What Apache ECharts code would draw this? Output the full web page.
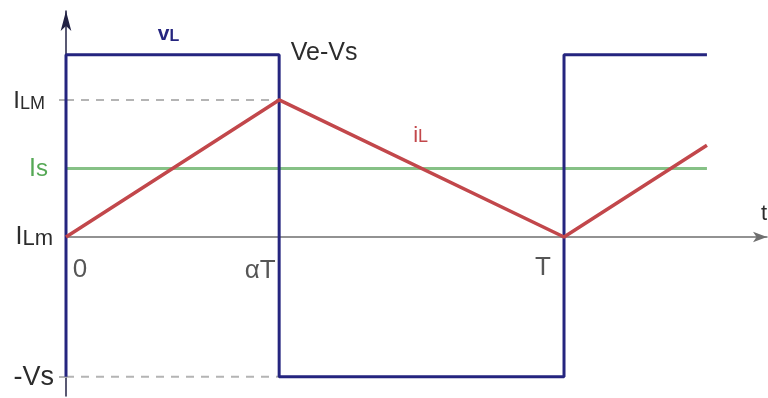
<!DOCTYPE html>
<html>
<head>
<meta charset="utf-8">
<script src="https://cdn.jsdelivr.net/npm/echarts@6/dist/echarts.min.js"></script>
<style>
  html, body { margin: 0; padding: 0; background: #ffffff; }
  #chart { width: 768px; height: 398px; }
</style>
</head>
<body>
<div id="chart"></div>
<script>
// Inductor voltage and current over one switching period (time in units of T)
const alpha = 0.428;
const timeTicks = [0, alpha, 1];
const timeTickLabels = ['0', 'αT', 'T'];

// Levels: ILM, Is, ILm, -Vs (current/voltage in arbitrary units)
const levelTicks = [1, 0.5, 0, -1.02];
const levelTickKeys = ['ILM', 'Is', 'ILm', 'Vs'];

// vL: square wave between Ve-Vs and -Vs
const vLTime  = [0, 0, alpha, alpha, 1, 1, 1.287];
const vLValue = [-1.02, 1.33, 1.33, -1.02, -1.02, 1.33, 1.33];

// iL: triangular ripple between ILm and ILM
const iLTime  = [0, alpha, 1, 1.287];
const iLValue = [0, 1, 0, 0.67];

// Is: mean output current
const isTime  = [0, 1.287];
const isValue = [0.5, 0.5];

// dashed guide lines to ILM and -Vs
const guideTime = [0, alpha];
const ilmGuide = [1, 1];
const vsGuide = [-1.02, -1.02];

const zip = (xs, ys) => xs.map((x, i) => [x, ys[i]]);

const FONT = '"Liberation Sans", Arial, sans-serif';
const TEXT = '#2c2c2c';
const BLUE = '#25257f';
const RED = '#c2474b';
const GREEN = '#86c186';
const LABEL_GREEN = '#55a855';
const GUIDE = '#b4b4b4';

const chart = echarts.init(document.getElementById('chart'), null, { renderer: 'canvas' });

const yLabelRich = {
  big:   { fontFamily: FONT, fontSize: 24, color: TEXT, lineHeight: 26, verticalAlign: 'bottom' },
  bigB:  { fontFamily: FONT, fontSize: 25, color: TEXT, lineHeight: 26, verticalAlign: 'bottom' },
  smA:   { fontFamily: FONT, fontSize: 18, color: TEXT, lineHeight: 26, verticalAlign: 'bottom', padding: [0, 9, 0, 0] },
  smB:   { fontFamily: FONT, fontSize: 22, color: TEXT, lineHeight: 26, verticalAlign: 'bottom', padding: [0, 1, 0, 0] },
  gBig:  { fontFamily: FONT, fontSize: 25, color: LABEL_GREEN, lineHeight: 26, verticalAlign: 'bottom' },
  gSm:   { fontFamily: FONT, fontSize: 24, color: LABEL_GREEN, lineHeight: 26, verticalAlign: 'bottom', padding: [0, 6, 0, 0] },
  vs:    { fontFamily: FONT, fontSize: 27, color: TEXT, lineHeight: 28, verticalAlign: 'bottom' }
};
const yLabelText = {
  ILM: '{big|I}{smA|LM}',
  Is:  '{gBig|I}{gSm|s}',
  ILm: '{bigB|I}{smB|Lm}',
  Vs:  '{vs|-Vs}'
};

// label placement beside each time tick
const timeLabelOffsets = [[14, 33], [-19, 34], [-21, 31]];

const option = {
  animation: false,
  backgroundColor: '#ffffff',
  grid: { left: 66, right: 1, top: 11, bottom: 2, containLabel: false, outerBoundsMode: 'none' },
  xAxis: {
    type: 'value',
    min: 0,
    max: 1.4076,
    name: 't',
    nameLocation: 'end',
    nameGap: -6,
    nameTextStyle: { fontFamily: FONT, fontSize: 22, color: TEXT, align: 'left', verticalAlign: 'bottom', padding: [0, 0, 12, 0] },
    axisLine: {
      onZero: true,
      symbol: ['none', 'arrow'],
      symbolSize: [8, 14],
      lineStyle: { color: '#6f6f6f', width: 1.5 }
    },
    axisTick: { show: false },
    splitLine: { show: false },
    axisLabel: { show: false }
  },
  yAxis: {
    type: 'value',
    min: -1.16,
    max: 1.649,
    axisLine: {
      onZero: true,
      symbol: ['none', 'arrow'],
      symbolSize: [8, 20],
      lineStyle: { color: '#222244', width: 1.5 }
    },
    axisTick: {
      show: true,
      customValues: [levelTicks[0], levelTicks[3]],
      length: 7,
      lineStyle: { color: GUIDE, width: 2 }
    },
    splitLine: { show: false },
    axisLabel: {
      customValues: levelTicks,
      margin: 12,
      formatter: (v) => {
        const i = levelTicks.indexOf(v);
        return i < 0 ? '' : yLabelText[levelTickKeys[i]];
      },
      rich: yLabelRich
    }
  },
  series: [
    {
      name: 'ILM guide',
      type: 'line',
      data: zip(guideTime, ilmGuide),
      symbol: 'none',
      lineStyle: { color: GUIDE, width: 2, type: [8, 7] },
      z: 1
    },
    {
      name: '-Vs guide',
      type: 'line',
      data: zip(guideTime, vsGuide),
      symbol: 'none',
      lineStyle: { color: GUIDE, width: 2, type: [8, 7] },
      z: 1
    },
    {
      name: 'Is',
      type: 'line',
      data: zip(isTime, isValue),
      symbol: 'none',
      lineStyle: { color: GREEN, width: 3 },
      z: 2
    },
    {
      name: 'vL',
      type: 'line',
      data: zip(vLTime, vLValue),
      symbol: 'none',
      lineStyle: { color: BLUE, width: 3 },
      z: 3,
      markPoint: {
        symbol: 'circle',
        symbolSize: 1,
        itemStyle: { color: 'rgba(0,0,0,0)' },
        data: [
          {
            coord: [alpha / 2, vLValue[1]],
            label: {
              show: true,
              position: 'inside',
              offset: [-4, -21],
              formatter: '{v|v}{l|L}',
              rich: {
                v: { fontFamily: FONT, fontSize: 21, fontWeight: 'bold', color: BLUE, verticalAlign: 'bottom', lineHeight: 22 },
                l: { fontFamily: FONT, fontSize: 16, fontWeight: 'bold', color: BLUE, verticalAlign: 'bottom', lineHeight: 22 }
              }
            }
          },
          {
            coord: [alpha, vLValue[2]],
            label: {
              show: true,
              position: 'inside',
              offset: [45, -2],
              formatter: 'Ve-Vs',
              fontFamily: FONT,
              fontSize: 25,
              color: TEXT
            }
          }
        ]
      }
    },
    {
      name: 'iL',
      type: 'line',
      data: zip(iLTime, iLValue),
      symbol: 'none',
      lineStyle: { color: RED, width: 3.5 },
      z: 4,
      markPoint: {
        symbol: 'circle',
        symbolSize: 1,
        itemStyle: { color: 'rgba(0,0,0,0)' },
        data: [
          {
            coord: [(iLTime[1] + iLTime[2]) / 2, (iLValue[1] + iLValue[2]) / 2],
            label: {
              show: true,
              position: 'inside',
              offset: [-1, -34],
              formatter: '{i|i}{l|L}',
              rich: {
                i: { fontFamily: FONT, fontSize: 22, color: RED, verticalAlign: 'bottom', lineHeight: 24 },
                l: { fontFamily: FONT, fontSize: 18, color: RED, verticalAlign: 'bottom', lineHeight: 24 }
              }
            }
          }
        ]
      }
    },
    {
      name: 'time ticks',
      type: 'scatter',
      data: timeTicks.map((t, i) => ({
        value: [t, 0],
        label: {
          show: true,
          position: 'inside',
          offset: timeLabelOffsets[i],
          formatter: timeTickLabels[i],
          fontFamily: FONT,
          fontSize: 26,
          color: TEXT
        }
      })),
      symbolSize: 1,
      itemStyle: { color: 'rgba(0,0,0,0)' },
      silent: true,
      z: 5
    }
  ]
};

chart.setOption(option);
</script>
</body>
</html>
